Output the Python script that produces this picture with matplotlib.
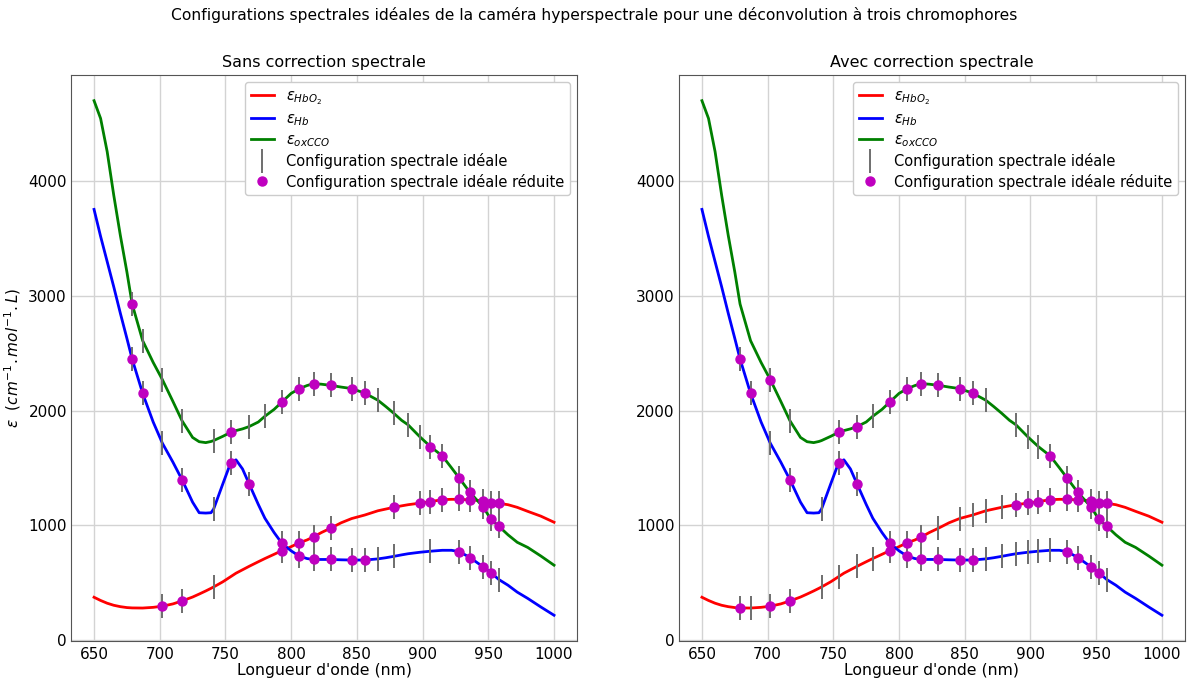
import matplotlib
matplotlib.use("Agg")
import matplotlib.pyplot as plt

# ---- data ----
wl = [650, 655, 660, 665, 670, 675, 679, 687, 695, 702, 710, 717, 725, 730, 735, 739, 741,
      748, 754, 758, 763, 768, 775, 780, 787, 793, 800, 806, 812, 817, 823, 830, 838, 846,
      856, 866, 872, 878, 884, 889, 898, 906, 915, 922, 928, 936, 946, 952, 958, 965, 972,
      980, 990, 1000]

hbo2 = [370, 342, 318, 300, 288, 280, 277, 276, 282, 292, 312, 338, 372, 398, 425, 448, 460,
        505, 550, 580, 610, 640, 680, 708, 745, 777, 812, 845, 870, 897, 935, 973, 1020, 1057,
        1088, 1125, 1140, 1155, 1168, 1178, 1192, 1205, 1222, 1225, 1225, 1220, 1213, 1197,
        1190, 1178, 1155, 1120, 1078, 1025]

hb = [3756, 3520, 3300, 3080, 2850, 2630, 2450, 2150, 1900, 1715, 1550, 1395, 1200, 1108, 1105,
      1108, 1140, 1360, 1545, 1570, 1490, 1360, 1180, 1060, 935, 840, 775, 730, 708, 700, 700,
      700, 697, 695, 695, 705, 715, 727, 740, 750, 763, 772, 780, 780, 768, 717, 636, 585, 525,
      475, 415, 360, 285, 213]

oxcco = [4705, 4550, 4260, 3880, 3530, 3210, 2930, 2610, 2420, 2270, 2080, 1910, 1765, 1728,
         1720, 1730, 1738, 1775, 1810, 1825, 1840, 1860, 1900, 1950, 2010, 2075, 2150, 2190,
         2218, 2235, 2230, 2220, 2205, 2192, 2152, 2090, 2035, 1977, 1915, 1875, 1770, 1685,
         1604, 1500, 1409, 1285, 1160, 1050, 990, 915, 850, 805, 730, 650]

# ideal spectral configuration (vertical ticks) and reduced configuration (dots)
# --- without spectral correction ---
left_seg_hbo2 = [702, 717, 741, 793, 806, 817, 830, 878, 898, 906, 915, 928, 936, 946, 952, 958]
left_dot_hbo2 = [702, 717, 793, 806, 817, 830, 878, 898, 906, 915, 928, 936, 946, 952, 958]
left_seg_hb = [679, 687, 702, 717, 741, 754, 768, 793, 806, 817, 830, 846, 856, 866, 878, 906,
               928, 936, 946, 952, 958]
left_dot_hb = [679, 687, 717, 754, 768, 793, 806, 817, 830, 846, 856, 928, 936, 946, 952]
left_seg_ox = [679, 687, 702, 717, 741, 754, 768, 780, 793, 806, 817, 830, 846, 856, 866, 878,
               889, 898, 906, 915, 928, 936, 946, 952, 958]
left_dot_ox = [679, 754, 793, 806, 817, 830, 846, 856, 906, 915, 928, 936, 946, 952, 958]

# --- with spectral correction ---
right_seg_hbo2 = [679, 687, 702, 717, 741, 754, 768, 780, 793, 806, 817, 830, 846, 856, 866,
                  878, 889, 898, 906, 915, 928, 936, 946, 952, 958]
right_dot_hbo2 = [679, 702, 717, 793, 806, 817, 889, 898, 906, 915, 928, 936, 946, 952, 958]
right_seg_hb = [679, 687, 702, 717, 741, 754, 768, 793, 806, 817, 830, 846, 856, 866, 878, 889,
                898, 906, 915, 928, 936, 946, 952, 958]
right_dot_hb = [679, 687, 717, 754, 768, 793, 806, 817, 830, 846, 856, 928, 936, 946, 952]
right_seg_ox = [702, 717, 754, 768, 780, 793, 806, 817, 830, 846, 856, 866, 889, 898, 906, 915,
                928, 936, 946, 952, 958]
right_dot_ox = [702, 754, 768, 793, 806, 817, 830, 846, 856, 915, 928, 936, 946, 952, 958]

suptitle = "Configurations spectrales idéales de la caméra hyperspectrale pour une déconvolution à trois chromophores"
titles = ["Sans correction spectrale", "Avec correction spectrale"]
xticks = [650, 700, 750, 800, 850, 900, 950, 1000]
yticks = [0, 1000, 2000, 3000, 4000]

# ---- drawing ----
plt.rcParams['font.family'] = ['DejaVu Sans']
fig = plt.figure(figsize=(11.88, 6.84), dpi=100)
axL = fig.add_axes([0.0598, 0.0629, 0.4259, 0.8275])
axR = fig.add_axes([0.5715, 0.0629, 0.4259, 0.8275])

curves = [(hbo2, 'red', r'$\epsilon_{HbO_2}$'),
          (hb, 'blue', r'$\epsilon_{Hb}$'),
          (oxcco, 'green', r'$\epsilon_{oxCCO}$')]


def lookup(curve, bands):
    return [curve[wl.index(b)] for b in bands]


panels = [
    (axL, titles[0], [(hbo2, left_seg_hbo2, left_dot_hbo2), (hb, left_seg_hb, left_dot_hb),
                      (oxcco, left_seg_ox, left_dot_ox)]),
    (axR, titles[1], [(hbo2, right_seg_hbo2, right_dot_hbo2), (hb, right_seg_hb, right_dot_hb),
                      (oxcco, right_seg_ox, right_dot_ox)]),
]

for ax, title, sets in panels:
    ax.set_axisbelow(True)
    ax.grid(True, color='#d3d3d3', linewidth=1.0)
    for curve, color, label in curves:
        ax.plot(wl, curve, color=color, linewidth=2.0, label=label, zorder=2)
    sx, sy, dx, dy = [], [], [], []
    for curve, seg, dot in sets:
        sx += seg
        sy += lookup(curve, seg)
        dx += dot
        dy += lookup(curve, dot)
    ax.plot(sx, sy, linestyle='none', marker='|', color='#6e6e6e', markersize=17,
            markeredgewidth=1.4, label='Configuration spectrale idéale', zorder=3)
    ax.plot(dx, dy, linestyle='none', marker='o', color='#bf00bf', markersize=6.5,
            label='Configuration spectrale idéale réduite', zorder=4)
    ax.set_xticks(xticks)
    ax.set_yticks(yticks)
    ax.tick_params(labelsize=11, length=0)
    ax.tick_params(axis='x', pad=4)
    ax.tick_params(axis='y', pad=3)
    ax.set_title(title, fontsize=11.5)
    ax.set_xlabel("Longueur d'onde (nm)", fontsize=11.3, labelpad=1)
    ax.legend(loc='upper right', fontsize=10.5, handlelength=1.6, labelspacing=0.3,
              framealpha=1.0, edgecolor='#cccccc')
    for s in ax.spines.values():
        s.set_color('#555555')

axL.set_ylabel(r'$\epsilon$  $(cm^{-1}.mol^{-1}.L)$', fontsize=11, labelpad=4)
fig.suptitle(suptitle, fontsize=11.2, y=0.99)

fig.savefig('out.png', dpi=100)
